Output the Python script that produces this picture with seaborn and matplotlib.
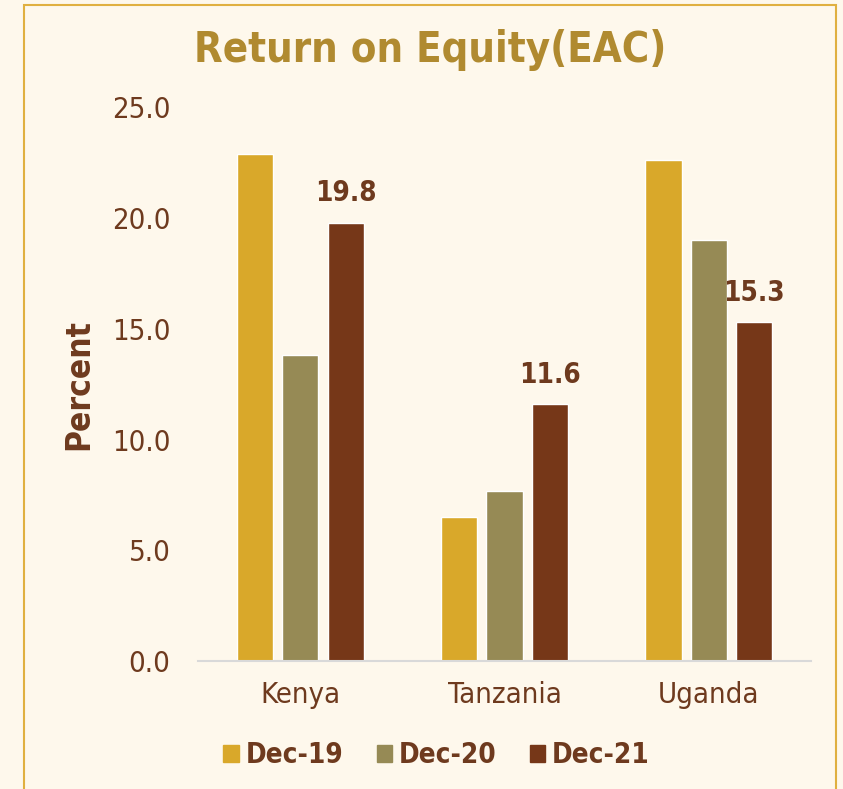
import pandas as pd
import matplotlib.pyplot as plt
import seaborn as sns
from matplotlib.patches import Rectangle

# --- dados ---
countries = ["Kenya", "Tanzania", "Uganda"]
periods = ["Dec-19", "Dec-20", "Dec-21"]
dec19 = [22.9, 6.5, 22.6]
dec20 = [13.8, 7.7, 19.0]
dec21 = [19.8, 11.6, 15.3]

colors = ["#D9A82A", "#968A55", "#763718"]
bg = "#FEF8EC"
brown = "#6E3A1E"
gold = "#B08A30"

df = pd.DataFrame({
    "Country": countries * 3,
    "Period": [p for p in periods for _ in countries],
    "Value": dec19 + dec20 + dec21,
})

sns.set_style("white")
plt.rcParams["font.family"] = ["DejaVu Sans"]
plt.rcParams["font.stretch"] = "condensed"

fig = plt.figure(figsize=(8.43, 7.89), dpi=100, facecolor=bg)
ax = fig.add_axes([0.235, 0.162, 0.727, 0.702])
ax.set_facecolor(bg)

sns.barplot(data=df, x="Country", y="Value", hue="Period", palette=colors,
            width=0.667, gap=0.2, ax=ax, saturation=1)

# rótulo só na série Dec-21
ax.bar_label(ax.containers[2], fmt="%.1f", padding=11, fontsize=20,
             fontweight="bold", color=brown)

ax.set_ylim(0, 25)
ax.set_xlim(-0.5, 2.5)
ax.set_yticks([0, 5, 10, 15, 20, 25])
ax.set_yticklabels([f"{v:.1f}" for v in [0, 5, 10, 15, 20, 25]])
ax.tick_params(axis="y", length=0, pad=20, labelsize=21, labelcolor=brown)
ax.tick_params(axis="x", length=0, pad=14, labelsize=21, labelcolor=brown)

for s in ["top", "right", "left"]:
    ax.spines[s].set_visible(False)
ax.spines["bottom"].set_color("#D9D9D9")
ax.spines["bottom"].set_linewidth(1.5)

ax.set_xlabel("")
ax.set_ylabel("Percent", fontsize=24, fontweight="bold", color=brown)
ax.yaxis.set_label_coords(-0.168, 0.5)

# legenda embaixo
ax.legend_.remove()
handles = [Rectangle((0, 0), 1, 1, color=c) for c in colors]
leg = fig.legend(handles, periods, loc="center", bbox_to_anchor=(0.518, 0.043),
                 ncol=3, frameon=False, handlelength=0.55, handleheight=0.55,
                 handletextpad=0.25, columnspacing=1.2,
                 prop={"size": 20, "weight": "bold"})
for t in leg.get_texts():
    t.set_color(brown)

fig.text(0.51, 0.937, "Return on Equity(EAC)", ha="center", va="center",
         fontsize=30, fontweight="bold", color=gold)

# moldura dourada
fig.patches.append(Rectangle((24 / 843, -0.01), 812 / 843, 1 - 5 / 789 + 0.01,
                             transform=fig.transFigure, fill=False,
                             edgecolor="#E0B040", linewidth=1.5))

plt.savefig("out.png", dpi=100, facecolor=bg)
